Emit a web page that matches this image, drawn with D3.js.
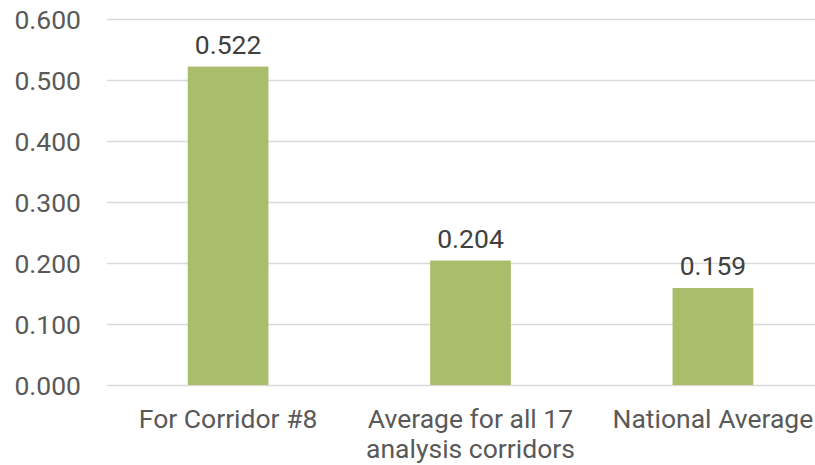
<!DOCTYPE html>
<html><head><meta charset="utf-8">
<script src="https://cdn.jsdelivr.net/npm/d3@7"></script>
<style>body{margin:0;background:#fff;} svg{display:block;font-family:Roboto, sans-serif;}</style>
</head><body><svg id="c" width="815" height="465"></svg>
<script>
const categories = [["For Corridor #8"], ["Average for all 17", "analysis corridors"], ["National Average"]];
const values = [0.522, 0.204, 0.159];
const valueLabels = ["0.522", "0.204", "0.159"];
const yTicks = [0, 0.1, 0.2, 0.3, 0.4, 0.5, 0.6];

const svg = d3.select("#c");
const x = d3.scaleBand().domain(d3.range(values.length)).range([107, 834]).paddingInner(0.667).paddingOuter(0.333);
const y = d3.scaleLinear().domain([0, 0.6]).range([385, 19]);
const fs = 26.5;

svg.append("g").selectAll("line").data(yTicks).join("line")
  .attr("x1", 107).attr("x2", 815).attr("y1", d => Math.round(y(d)) + 0.5).attr("y2", d => Math.round(y(d)) + 0.5)
  .attr("stroke", "#D9D9D9").attr("stroke-width", 1.5);

svg.append("g").selectAll("text").data(yTicks).join("text")
  .attr("x", 81).attr("y", d => y(d)).attr("dy", "0.36em").attr("text-anchor", "end")
  .attr("font-size", fs).attr("fill", "#595959").text(d => d3.format(".3f")(d));

svg.append("g").selectAll("rect").data(values).join("rect")
  .attr("x", (d, i) => x(i)).attr("width", x.bandwidth())
  .attr("y", d => y(d)).attr("height", d => y(0) - y(d)).attr("fill", "#A9BD6B");

svg.append("g").selectAll("text").data(values).join("text")
  .attr("x", (d, i) => x(i) + x.bandwidth() / 2).attr("y", d => y(d) - 13)
  .attr("text-anchor", "middle").attr("font-size", fs).attr("fill", "#404040")
  .text((d, i) => valueLabels[i]);

const cat = svg.append("g").selectAll("text").data(categories).join("text")
  .attr("x", (d, i) => x(i) + x.bandwidth() / 2).attr("y", 428)
  .attr("text-anchor", "middle").attr("font-size", fs).attr("fill", "#595959");
cat.selectAll("tspan").data(d => d).join("tspan")
  .attr("x", function () { return this.parentNode.getAttribute("x"); })
  .attr("dy", (d, j) => j === 0 ? 0 : 30).text(d => d);
</script></body></html>
